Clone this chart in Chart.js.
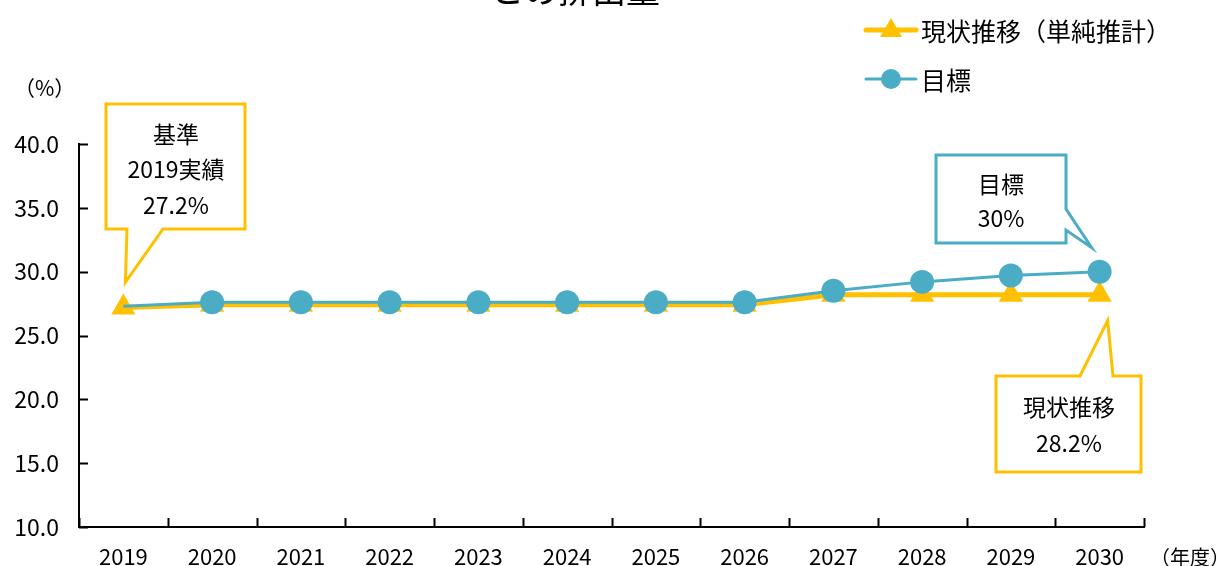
<!DOCTYPE html>
<html>
<head>
<meta charset="utf-8">
<script src="https://cdn.jsdelivr.net/npm/chart.js@4.4.1/dist/chart.umd.min.js"></script>
<style>
  html, body { margin: 0; padding: 0; background: #fff; }
  #wrap { width: 1224px; height: 566px; position: relative; }
</style>
</head>
<body>
<div id="wrap"><canvas id="emiChart" width="1224" height="566"></canvas></div>
<script>
// data
const years = ['2019', '2020', '2021', '2022', '2023', '2024', '2025', '2026', '2027', '2028', '2029', '2030'];
const currentTrend = [27.2, 27.4, 27.4, 27.4, 27.4, 27.4, 27.4, 27.4, 28.2, 28.2, 28.2, 28.2];
const targetPath = [27.3, 27.6, 27.6, 27.6, 27.6, 27.6, 27.6, 27.6, 28.5, 29.2, 29.7, 30.0];
const yTicks = [10, 15, 20, 25, 30, 35, 40];

const ORANGE = '#FFC000';
const BLUE = '#4BACC6';
const JP = '"Noto Sans CJK JP", "Noto Sans", sans-serif';

// axis ticks pointing into the plot, title fragment, legend and callouts
const decor = {
    id: 'decor',
    afterDraw(chart) {
        const c = chart.ctx;
        const x = chart.scales.x, y = chart.scales.y;
        const area = chart.chartArea;
        c.save();
        c.strokeStyle = '#000';
        c.lineWidth = 2;
        // y ticks
        yTicks.forEach(v => {
            const py = Math.round(y.getPixelForValue(v)) + 0.5;
            c.beginPath(); c.moveTo(area.left, py); c.lineTo(area.left + 9, py); c.stroke();
        });
        // x ticks at category boundaries
        for (let i = 0; i <= years.length; i++) {
            const px = Math.round(x.getPixelForValue(i - 0.5)) + 0.5;
            c.beginPath(); c.moveTo(px, area.bottom); c.lineTo(px, area.bottom - 9); c.stroke();
        }
        c.restore();

        c.save();
        c.fillStyle = '#000';
        c.textBaseline = 'middle';
        // units
        c.font = '21px ' + JP;
        c.textAlign = 'left';
        c.fillText('（%）', 14, 88);
        c.font = '20px ' + JP;
        c.fillText('（年度）', 1150, 557);
        // title (cut off at the top)
        c.font = '34px ' + JP;
        c.textAlign = 'center';
        c.fillText('との排出量', 575, -10);

        // legend
        const leg = [
            {label: '現状推移（単純推計）', color: ORANGE, style: 'triangle', w: 5, y: 30},
            {label: '目標', color: BLUE, style: 'circle', w: 3, y: 79}
        ];
        leg.forEach(it => {
            c.strokeStyle = it.color;
            c.fillStyle = it.color;
            c.lineWidth = it.w;
            c.lineCap = 'round';
            c.beginPath(); c.moveTo(866, it.y); c.lineTo(916, it.y); c.stroke();
            if (it.style === 'circle') {
                c.beginPath(); c.arc(891, it.y, 10, 0, Math.PI * 2); c.fill();
            } else {
                c.beginPath(); c.moveTo(891, it.y - 12); c.lineTo(902, it.y + 7); c.lineTo(880, it.y + 7); c.closePath(); c.fill();
            }
            c.fillStyle = '#000';
            c.font = '25px ' + JP;
            c.textAlign = 'left';
            c.fillText(it.label, 921, it.y + 1);
        });

        // callouts
        const x0 = x.getPixelForValue(0), xN = x.getPixelForValue(years.length - 1);
        const yStart = y.getPixelForValue(currentTrend[0]);
        const yEndCur = y.getPixelForValue(currentTrend[currentTrend.length - 1]);
        const yEndTgt = y.getPixelForValue(targetPath[targetPath.length - 1]);
        c.lineWidth = 3;
        c.lineJoin = 'miter';
        c.lineCap = 'butt';
        // base year box
        c.strokeStyle = ORANGE;
        c.fillStyle = '#fff';
        c.beginPath();
        c.moveTo(106, 104); c.lineTo(245, 104); c.lineTo(245, 229); c.lineTo(163, 229);
        c.lineTo(x0 + 2, yStart - 25); c.lineTo(127, 229); c.lineTo(106, 229); c.closePath();
        c.fill(); c.stroke();
        // target box
        c.strokeStyle = BLUE;
        c.beginPath();
        c.moveTo(936, 155); c.lineTo(1066, 155); c.lineTo(1066, 209);
        c.lineTo(xN - 8, yEndTgt - 24); c.lineTo(1066, 230); c.lineTo(1066, 243); c.lineTo(936, 243); c.closePath();
        c.fill(); c.stroke();
        // current trend box
        c.strokeStyle = ORANGE;
        c.beginPath();
        c.moveTo(996, 376); c.lineTo(1080, 376); c.lineTo(xN + 8, yEndCur + 26); c.lineTo(1113, 376);
        c.lineTo(1141, 376); c.lineTo(1141, 472); c.lineTo(996, 472); c.closePath();
        c.fill(); c.stroke();

        c.fillStyle = '#000';
        c.font = '23px ' + JP;
        c.textAlign = 'center';
        c.fillText('基準', 176, 134);
        c.fillText('2019実績', 176, 169);
        c.fillText('27.2%', 176, 205);
        c.fillText('目標', 1001, 184);
        c.fillText('30%', 1001, 218);
        c.fillText('現状推移', 1069, 407);
        c.fillText('28.2%', 1069, 443);
        c.restore();
    }
};

const ctx = document.getElementById('emiChart').getContext('2d');
const chart = new Chart(ctx, {
    type: 'line',
    data: {
        labels: years,
        datasets: [{
            label: '目標',
            data: targetPath,
            borderColor: BLUE,
            backgroundColor: BLUE,
            borderWidth: 3,
            pointStyle: 'circle',
            pointRadius: targetPath.map((v, i) => i === 0 ? 0 : 12),
            pointBorderWidth: 0,
            tension: 0,
            order: 0
        }, {
            label: '現状推移（単純推計）',
            data: currentTrend,
            borderColor: ORANGE,
            backgroundColor: ORANGE,
            borderWidth: 5,
            pointStyle: 'triangle',
            pointRadius: 14,
            pointBorderWidth: 0,
            tension: 0,
            order: 1
        }]
    },
    options: {
        responsive: false,
        animation: false,
        layout: { padding: { left: 0, right: 80, top: 144, bottom: 0 } },
        scales: {
            x: {
                offset: true,
                grid: { display: false, drawTicks: false },
                border: { display: true, color: '#000', width: 2 },
                ticks: { color: '#000', font: { family: JP, size: 22 }, padding: 16, maxRotation: 0 },
                afterFit(s) { s.height = 39; }
            },
            y: {
                min: 10,
                max: 40,
                grid: { display: false, drawTicks: false },
                border: { display: true, color: '#000', width: 2 },
                ticks: {
                    stepSize: 5,
                    color: '#000',
                    font: { family: JP, size: 23 },
                    padding: 20,
                    callback: v => v.toFixed(1)
                },
                afterFit(s) { s.width = 79; }
            }
        },
        plugins: {
            legend: { display: false },
            tooltip: { enabled: false }
        }
    },
    plugins: [decor]
});
</script>
</body>
</html>
